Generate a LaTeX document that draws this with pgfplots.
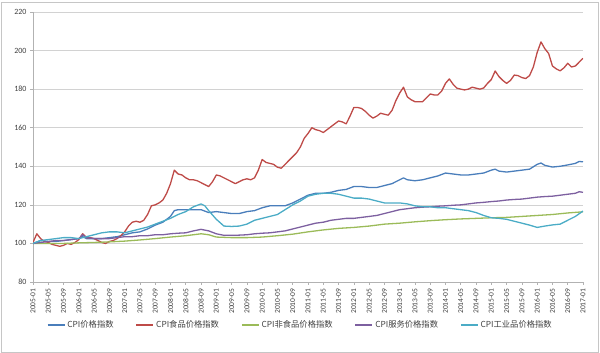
\documentclass[border=0pt]{standalone}
\usepackage{pgfplots}
\pgfplotsset{compat=1.18}
\usepackage{fontspec}
\setmainfont{Carlito}
\newfontfamily\cjk{Noto Sans CJK SC}
\definecolor{ccpi}{HTML}{4A7EBB}
\definecolor{cfood}{HTML}{BE4B48}
\definecolor{cnon}{HTML}{9BBB59}
\definecolor{cserv}{HTML}{7D60A0}
\definecolor{cind}{HTML}{4BACC6}
\definecolor{ctxt}{HTML}{404040}
\begin{document}
\begin{tikzpicture}[x=1pt,y=1pt]
\path[use as bounding box] (0,0) rectangle (600,353);
\draw[gray!45, line width=0.8pt] (1,1) rectangle (598,351);
\begin{axis}[
  at={(33pt,71pt)}, anchor=south west,
  scale only axis, width=550pt, height=270pt,
  xmin=0, xmax=144, ymin=80, ymax=220,
  ytick={80,100,...,220},
  xtick={0,4,...,144},
  xticklabels={2005-01,2005-05,2005-09,2006-01,2006-05,2006-09,2007-01,2007-05,2007-09,2008-01,2008-05,2008-09,2009-01,2009-05,2009-09,2010-01,2010-05,2010-09,2011-01,2011-05,2011-09,2012-01,2012-05,2012-09,2013-01,2013-05,2013-09,2014-01,2014-05,2014-09,2015-01,2015-05,2015-09,2016-01,2016-05,2016-09,2017-01},
  x tick label style={rotate=90, anchor=east, font=\fontsize{7.5}{8}\selectfont, text=ctxt},
  y tick label style={font=\fontsize{8}{9}\selectfont, text=ctxt},
  /pgf/number format/assume math mode=true,
  axis x line*=bottom, axis y line*=left,
  axis line style={gray!60, line width=0.6pt},
  tick style={gray!60, line width=0.6pt},
  tick align=outside, major tick length=3pt,
  ymajorgrids, grid style={gray!35, line width=0.7pt},
  legend columns=5,
  legend style={at={(0.486,-0.16)}, anchor=center, draw=none, fill=none,
    font=\cjk\fontsize{8.3}{9}\selectfont,
    /tikz/every even column/.append style={column sep=20pt}},
  legend image code/.code={\draw[#1, line width=1.6pt] (0pt,0pt) -- (17pt,0pt);},
  every axis plot/.append style={line width=1.3pt, line join=round},
]
\addplot[color=ccpi] coordinates {(0,100)(2,101.5)(4,101)(6,101)(8,101.5)(10,102)(12,102.5)(13,103.5)(14,102.5)(16,102.5)(18,102.5)(20,103)(22,103.5)(24,104.5)(26,105.5)(28,106)(30,107.5)(32,109.5)(34,111)(36,114)(37,117)(38,117.5)(40,117.5)(42,117.5)(44,117.5)(46,116)(48,116.5)(50,116)(52,115.5)(54,115.5)(56,116.5)(58,117)(60,118.5)(62,119.5)(64,119.5)(66,119.5)(68,121)(70,123)(72,125)(74,126)(76,126)(78,126.5)(80,127.5)(82,128)(84,129.5)(86,129.5)(88,129)(90,129)(92,130)(94,131)(96,133)(97,134)(98,133)(100,132.5)(102,133)(104,134)(106,135)(108,136.5)(110,136)(112,135.5)(114,135.5)(116,136)(118,136.5)(120,138)(121,138.5)(122,137.5)(124,137)(126,137.5)(128,138)(130,138.5)(132,141)(133,141.7)(134,140.5)(136,139.6)(138,140)(140,140.7)(142,141.5)(143,142.5)(144,142.3)};
\addlegendentry{\textcolor{ctxt}{CPI价格指数}}
\addplot[color=cfood] coordinates {(0,100.5)(1,105)(2,102.5)(3,101)(4,100.5)(5,99.5)(6,99)(7,98.5)(8,99)(9,100)(10,99.5)(11,100.5)(12,102)(13,105)(14,103)(15,103)(16,102.5)(17,101.5)(18,100.5)(19,100)(20,101)(21,101.5)(22,102.5)(23,104)(24,106)(25,109)(26,111)(27,111.5)(28,111)(29,112)(30,115)(31,119.5)(32,120)(33,121)(34,122.5)(35,126)(36,131)(37,138)(38,136)(39,135.5)(40,134)(41,133)(42,133)(43,132.5)(44,131.5)(45,130.5)(46,129.5)(47,132)(48,135.5)(49,135)(50,134)(51,133)(52,132)(53,131)(54,132)(55,133)(56,133.5)(57,133)(58,134)(59,138)(60,143.5)(61,142)(62,141.5)(63,141)(64,139.5)(65,139)(66,141)(67,143)(68,145)(69,147)(70,150)(71,154.5)(72,157)(73,160)(74,159)(75,158.5)(76,157.5)(77,159)(78,160.5)(79,162)(80,163.5)(81,163)(82,162)(83,166)(84,170.5)(85,170.5)(86,170)(87,168.5)(88,166.5)(89,165)(90,166)(91,167.5)(92,167)(93,166.5)(94,169)(95,174)(96,178)(97,181)(98,176)(99,174.5)(100,173.5)(101,173.5)(102,173.5)(103,175.5)(104,177.5)(105,177)(106,177)(107,179)(108,183)(109,185.3)(110,182.5)(111,180.5)(112,180)(113,179.6)(114,180)(115,181)(116,180.5)(117,180)(118,180.6)(119,183)(120,185)(121,189.4)(122,186.5)(123,184.5)(124,183)(125,184.5)(126,187.3)(127,187)(128,186)(129,185.5)(130,187)(131,191.5)(132,199)(133,204.5)(134,201)(135,198.5)(136,192)(137,190.5)(138,189.5)(139,191)(140,193.4)(141,191.5)(142,192)(143,194)(144,196)};
\addlegendentry{\textcolor{ctxt}{CPI食品价格指数}}
\addplot[color=cnon] coordinates {(0,100)(4,100)(8,100)(12,100.3)(16,100.5)(20,100.8)(24,101.2)(28,101.8)(32,102.5)(36,103.3)(40,104)(44,105)(46,104.5)(48,103.3)(52,103)(56,103)(60,103.3)(64,104)(68,104.8)(72,106)(76,107)(80,107.8)(84,108.3)(88,109)(92,110)(96,110.5)(100,111.2)(104,111.8)(108,112.3)(112,112.7)(116,113)(120,113.3)(124,113.5)(128,114)(132,114.5)(136,115)(140,115.8)(144,116.4)};
\addlegendentry{\textcolor{ctxt}{CPI非食品价格指数}}
\addplot[color=cserv] coordinates {(0,100)(2,100.5)(4,101)(6,101.5)(8,101.5)(10,102)(12,102.5)(13,104.5)(14,103)(16,102.5)(18,102.5)(20,102.5)(22,103)(24,103.5)(26,103.5)(28,104)(30,104)(32,104.5)(34,104.5)(36,105)(38,105.3)(40,105.5)(42,106.5)(44,107.3)(46,106.5)(48,105)(50,104.2)(52,104.2)(54,104.3)(56,104.5)(58,105)(60,105.3)(62,105.5)(64,106)(66,106.5)(68,107.5)(70,108.5)(72,109.5)(74,110.5)(76,111)(78,112)(80,112.5)(82,113)(84,113)(86,113.5)(88,114)(90,114.5)(92,115.5)(94,116.5)(96,117.5)(98,118)(100,118.5)(102,118.8)(104,119)(106,119.3)(108,119.5)(110,119.8)(112,120)(114,120.5)(116,121)(118,121.3)(120,121.7)(122,122)(124,122.5)(126,122.8)(128,123)(130,123.5)(132,124)(134,124.3)(136,124.5)(138,125)(140,125.5)(142,126)(143,126.8)(144,126.5)};
\addlegendentry{\textcolor{ctxt}{CPI服务价格指数}}
\addplot[color=cind] coordinates {(0,100)(2,101.5)(4,102)(6,102.5)(8,103)(10,103)(12,102.5)(14,103.5)(16,104.5)(18,105.5)(20,106)(22,106)(24,105.5)(26,106.5)(28,107.5)(30,108.5)(32,110)(34,111.5)(36,113)(38,115)(40,116.5)(42,119)(44,120.5)(45,119.5)(46,117)(48,112.5)(50,109)(52,108.8)(54,109)(56,110)(58,112)(60,113)(62,114)(64,115)(66,117.5)(68,120)(70,122)(72,124.5)(74,125.5)(76,126)(78,126)(80,125.5)(82,124.5)(84,123.5)(86,123.5)(88,123)(90,122)(92,121)(94,121)(96,121)(98,120.5)(100,119.5)(102,119)(104,119)(106,118.5)(108,118.5)(110,118)(112,117.5)(114,117)(116,116)(118,114.5)(120,113.3)(122,113)(124,112.5)(126,111.5)(128,110.5)(130,109.5)(132,108.3)(134,109)(136,109.6)(138,110)(140,112)(142,114)(144,116.8)};
\addlegendentry{\textcolor{ctxt}{CPI工业品价格指数}}
\end{axis}
\end{tikzpicture}
\end{document}
